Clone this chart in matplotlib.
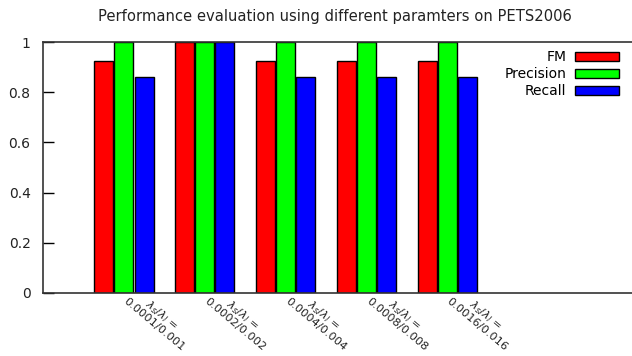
import numpy as np
import matplotlib.pyplot as plt

groups = ['$\\lambda_s/\\lambda_l$ =\n0.0001/0.001',
          '$\\lambda_s/\\lambda_l$ =\n0.0002/0.002',
          '$\\lambda_s/\\lambda_l$ =\n0.0004/0.004',
          '$\\lambda_s/\\lambda_l$ =\n0.0008/0.008',
          '$\\lambda_s/\\lambda_l$ =\n0.0016/0.016']
fm = [0.925, 1.0, 0.925, 0.925, 0.925]
precision = [1.0, 1.0, 1.0, 1.0, 1.0]
recall = [0.86, 1.0, 0.86, 0.86, 0.86]

fig = plt.figure(figsize=(6.32, 3.56), dpi=100)
ax = fig.add_axes([43/632, 1 - 293/356, 1 - 43/632 + 0.01, 251/356])

x = np.arange(len(groups))
w = 0.235
ax.bar(x - 0.25, fm, w, color='#ff0000', edgecolor='black', linewidth=1, label='FM')
ax.bar(x, precision, w, color='#00ff00', edgecolor='black', linewidth=1, label='Precision')
ax.bar(x + 0.25, recall, w, color='#0000ff', edgecolor='black', linewidth=1, label='Recall')

ax.set_xlim(-1, 6.36)
ax.set_ylim(0, 1)
ax.set_yticks([0, 0.2, 0.4, 0.6, 0.8, 1])
ax.set_yticklabels(['0', '0.2', '0.4', '0.6', '0.8', '1'], fontsize=10, color='#222222')
ax.tick_params(axis='y', direction='in', length=8, width=1, pad=9)
ax.set_xticks([])
ax.spines['right'].set_visible(False)
for s in ['left', 'top', 'bottom']:
    ax.spines[s].set_linewidth(1.2)
    ax.spines[s].set_color('#333333')

for xi, lab in zip(x, groups):
    ax.text(xi - 0.03, 0.03, lab, rotation=-40, ha='left', va='top',
            multialignment='center', fontsize=8.2, color='#222222',
            linespacing=1.0, transform=ax.get_xaxis_transform())

fig.text(335/632, 1 - 17/356, 'Performance evaluation using different paramters on PETS2006',
         ha='center', va='center', fontsize=10.6, color='#222222')

ax.legend(loc='upper right', bbox_to_anchor=(0.982, 1.0), frameon=False,
          markerfirst=False, fontsize=10, handlelength=3.2, handleheight=0.55,
          labelspacing=0.22, handletextpad=0.6, borderaxespad=0.2)

fig.savefig('out.png', dpi=100)
